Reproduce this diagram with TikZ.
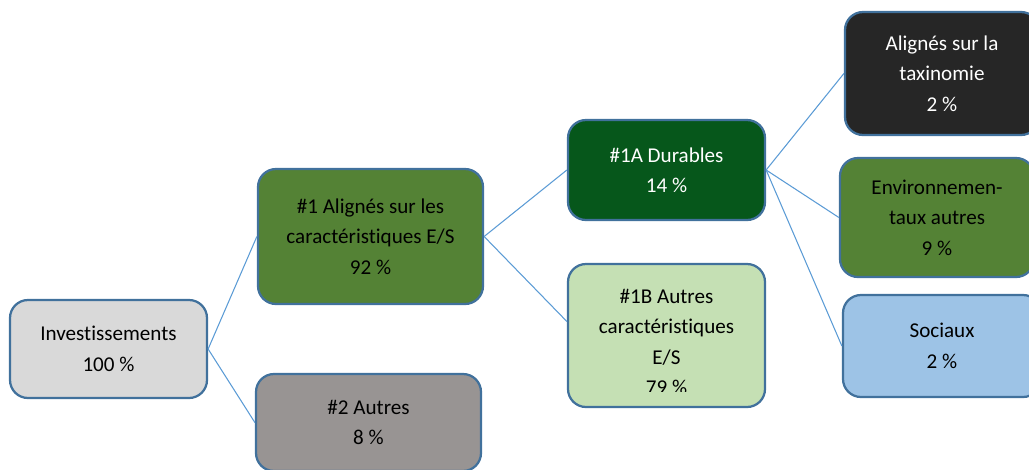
\documentclass[tikz,border=0pt]{standalone}
\usepackage{fontspec}
\setmainfont{Carlito}[RawFeature=-liga]
\usepackage{tikz}

\definecolor{frameblue}{HTML}{41719C}
\definecolor{linkblue}{HTML}{5B9BD5}
\definecolor{invgray}{HTML}{D9D9D9}
\definecolor{esgreen}{HTML}{548235}
\definecolor{othergray}{HTML}{989493}
\definecolor{durgreen}{HTML}{06571B}
\definecolor{lightgreen}{HTML}{C5E0B4}
\definecolor{taxdark}{HTML}{262626}
\definecolor{socblue}{HTML}{9DC3E6}

\tikzset{
  boxtext/.style={align=center, inner sep=0pt, font=\fontsize{15}{21.6}\selectfont},
  box/.style 2 args={boxtext, draw=frameblue, line width=1.6pt, rounded corners=0.45cm,
    minimum width=#1*0.025cm, minimum height=#2*0.025cm},
  conn/.style={draw=linkblue, line width=0.75pt},
}

\begin{document}
\begin{tikzpicture}[x=0.025cm, y=-0.025cm]
  \useasboundingbox (0,0) rectangle (1029,469);
  \clip (0,0) rectangle (1029,469);

  % level 0
  \node[box={197}{98}, fill=invgray] (inv) at (108.5,349) {Investissements\\100 \%};

  % level 1
  \node[box={225}{135}, fill=esgreen] (n1) at (370.5,236.5)
    {\#1 Alignés sur les\\caractéristiques E/S\\92 \%};
  \node[box={225}{97}, fill=othergray] (n2) at (368.5,422.5) {\#2 Autres\\8 \%};

  % level 2
  \node[box={197}{100}, fill=durgreen, text=white] (n1a) at (666.5,170) {\#1A Durables\\14 \%};
  \node[box={197}{143}, fill=lightgreen] (n1b) at (666.5,335.5) {};
  \begin{scope} % text runs past the bottom of the box and is cut
    \clip (568,264) rectangle (765,391);
    \node[boxtext, anchor=north] (n1btext) at (666.5,289)
      {\#1B Autres\\caractéristiques\\E/S\\79 \%};
  \end{scope}

  % level 3
  \node[box={194}{123}, fill=taxdark, text=white] (tax) at (942,73.5) {Alignés sur la\\taxinomie\\2 \%};
  \node[box={194}{119}, fill=esgreen] (env) at (937,217.5) {Environnemen-\\taux autres\\9 \%};
  \node[box={198}{102}, fill=socblue] (soc) at (942,346) {Sociaux\\2 \%};

  % connectors
  \draw[conn] (inv.east) -- (n1.west);
  \draw[conn] (inv.east) -- (n2.west);
  \draw[conn] (n1.east) -- (n1a.west);
  \draw[conn] (n1.east) -- (n1b.172);
  \foreach \t in {tax,env,soc}
    \draw[conn] (n1a.east) -- (\t.west);
\end{tikzpicture}
\end{document}
